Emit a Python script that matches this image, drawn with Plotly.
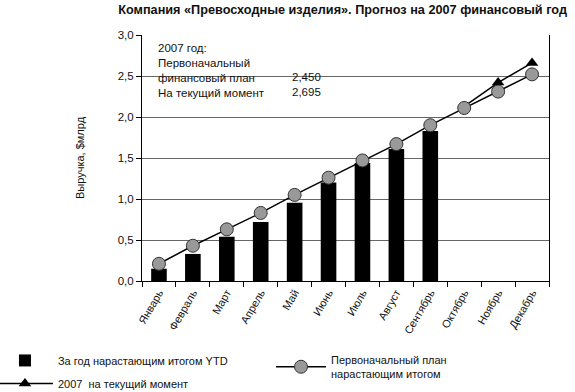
import plotly.graph_objects as go

months = ["Январь", "Февраль", "Март", "Апрель", "Май", "Июнь", "Июль",
          "Август", "Сентябрь", "Октябрь", "Ноябрь", "Декабрь"]
ytd_values = [0.15, 0.33, 0.54, 0.72, 0.955, 1.20, 1.44, 1.61, 1.83]
plan_values = [0.21, 0.43, 0.63, 0.83, 1.05, 1.26, 1.47, 1.67, 1.90, 2.11, 2.31, 2.52]
current_months = ["Октябрь", "Ноябрь", "Декабрь"]
current_values = [2.13, 2.42, 2.66]
plan_total = "2,450"
current_total = "2,695"
y_ticks = [0, 0.5, 1.0, 1.5, 2.0, 2.5, 3.0]

FONT = "Liberation Sans, Arial, sans-serif"

fig = go.Figure()
fig.add_trace(go.Bar(
    x=months[:len(ytd_values)], y=ytd_values,
    name="За год нарастающим итогом YTD",
    marker=dict(color="black", line=dict(width=0)),
    legend="legend", legendgroup="a",
))
fig.add_trace(go.Scatter(
    x=current_months, y=current_values, mode="lines+markers",
    name="2007  на текущий момент",
    line=dict(color="black", width=1.5),
    marker=dict(symbol="triangle-up", size=11, color="black"),
    legend="legend", legendgroup="b",
))
fig.add_trace(go.Scatter(
    x=months, y=plan_values, mode="lines+markers",
    name="Первоначальный план<br>нарастающим итогом",
    line=dict(color="black", width=1.5),
    marker=dict(symbol="circle", size=13, color="#999999",
                line=dict(color="#333333", width=1)),
    legend="legend2",
))

fig.update_layout(
    width=575, height=392,
    margin=dict(l=142, r=26, t=35, b=111, autoexpand=False),
    paper_bgcolor="white", plot_bgcolor="white",
    font=dict(family=FONT, size=11, color="#111111"),
    separators=", ",
    bargap=0.54,
    showlegend=True,
    title=dict(
        text="<b>Компания «Превосходные изделия». Прогноз на 2007 финансовый год</b>",
        x=0.986, xanchor="right", xref="container",
        y=0.975, yanchor="middle", yref="container",
        font=dict(family=FONT, size=12.7, color="#111111"),
    ),
    xaxis=dict(
        categoryorder="array", categoryarray=months,
        range=[-0.5, 11.5],
        tickangle=-60, tickson="boundaries",
        ticks="outside", ticklen=5, tickcolor="black",
        showline=True, linecolor="black", linewidth=1,
        showgrid=False, automargin=False,
        tickfont=dict(size=11, color="#111111"),
    ),
    yaxis=dict(
        range=[0, 3.0], tickvals=y_ticks, tickformat=".1f",
        ticks="outside", ticklen=5, tickcolor="black",
        showline=True, linecolor="black", linewidth=1, mirror=True,
        showgrid=True, gridcolor="#666666", gridwidth=1,
        zeroline=False, automargin=False,
        title=dict(text="Выручка, $млрд", standoff=30,
                   font=dict(size=11, color="#111111")),
        tickfont=dict(size=11.5, color="#111111"),
    ),
    legend=dict(
        x=-0.349, y=-0.264, xanchor="left", yanchor="top",
        orientation="v", itemwidth=56, tracegroupgap=4, indentation=-8,
        font=dict(size=11, color="#111111"),
        bgcolor="rgba(0,0,0,0)",
    ),
    legend2=dict(
        x=0.317, y=-0.264, xanchor="left", yanchor="top",
        orientation="v", itemwidth=50,
        font=dict(size=11, color="#111111"),
        bgcolor="rgba(0,0,0,0)",
    ),
)

fig.add_annotation(
    text="2007 год:<br>Первоначальный<br>финансовый план<br>На текущий момент",
    xref="paper", yref="paper", x=0.034, y=0.978,
    xanchor="left", yanchor="top", align="left", showarrow=False,
    font=dict(size=11.5, color="#111111"),
)
fig.add_annotation(
    text=plan_total + "<br>" + current_total,
    xref="paper", yref="paper", x=0.364, y=0.978 - 2 * 14.5 / 246,
    xanchor="left", yanchor="top", align="left", showarrow=False,
    font=dict(size=11.5, color="#111111"),
)

fig.write_html("out.html", config={"displayModeBar": False},
               post_script="document.body.style.margin='0';")
